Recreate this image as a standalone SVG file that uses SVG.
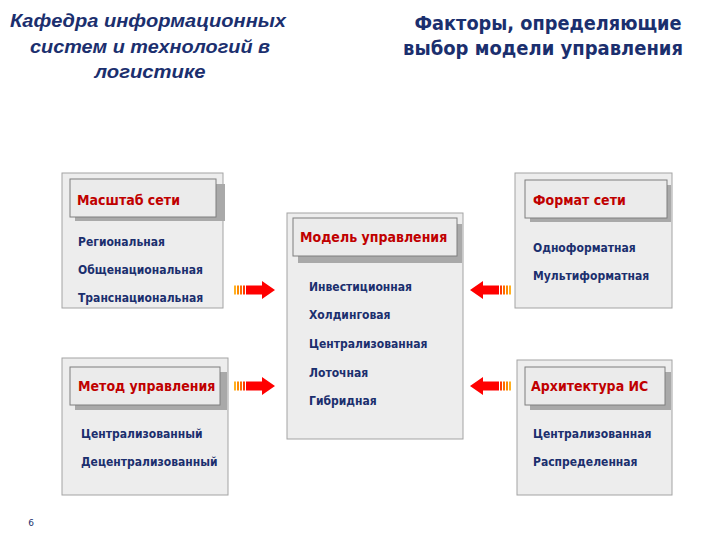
<svg xmlns="http://www.w3.org/2000/svg" width="720" height="540" viewBox="0 0 720 540">
<defs>
<style>
.panel{fill:#ededed;stroke:#a3a3a3;stroke-width:1}
.shadow{fill:#a9a9a9}
.head{fill:#ebebeb;stroke:#7f7f7f;stroke-width:1}
.ht{font-family:"DejaVu Sans Condensed","DejaVu Sans",sans-serif;font-weight:bold;font-size:14px;fill:#c00000}
.it{font-family:"DejaVu Sans Condensed","DejaVu Sans",sans-serif;font-weight:bold;font-size:12px;fill:#1b2f6e}
.title{font-family:"DejaVu Sans Condensed","DejaVu Sans",sans-serif;font-weight:bold;font-size:20px;fill:#1b2f6e;text-anchor:middle}
.sub{font-family:"Liberation Sans",sans-serif;font-weight:bold;font-style:italic;font-size:19px;fill:#1b2f6e;text-anchor:middle}
</style>
<g id="arrowR">
<rect x="0" y="-4.5" width="2" height="9" fill="#ffb020"/>
<rect x="3" y="-4.5" width="2" height="9" fill="#ff8a00"/>
<rect x="6" y="-4.5" width="2" height="9" fill="#ff6a00"/>
<rect x="9" y="-4.5" width="2" height="9" fill="#ff3a00"/>
<polygon points="12,-4.5 28,-4.5 28,-9 41,0 28,9 28,4.5 12,4.5" fill="#ff0000"/>
</g>
</defs>
<rect width="720" height="540" fill="#ffffff"/>
<g id="titles">
<text class="sub" x="148" y="27" textLength="276" lengthAdjust="spacingAndGlyphs">Кафедра информационных</text>
<text class="sub" x="150" y="53" textLength="240" lengthAdjust="spacingAndGlyphs">систем и технологий в</text>
<text class="sub" x="150" y="78" textLength="111" lengthAdjust="spacingAndGlyphs">логистике</text>
<text class="title" x="548" y="30" textLength="267" lengthAdjust="spacingAndGlyphs">Факторы, определяющие</text>
<text class="title" x="543" y="55" textLength="280" lengthAdjust="spacingAndGlyphs">выбор модели управления</text>
</g>
<g id="scale">
<rect class="panel" x="62" y="173" width="161" height="135"/>
<rect class="shadow" x="75" y="184" width="150" height="37"/>
<rect class="head" x="70" y="179" width="146" height="38"/>
<text class="ht" x="77" y="205">Масштаб сети</text>
<text class="it" x="78" y="246">Региональная</text>
<text class="it" x="78" y="274">Общенациональная</text>
<text class="it" x="78" y="302">Транснациональная</text>
</g>
<g id="format">
<rect class="panel" x="515" y="173" width="157" height="135"/>
<rect class="shadow" x="530" y="185" width="141" height="37"/>
<rect class="head" x="525" y="180" width="142" height="38"/>
<text class="ht" x="533" y="205">Формат сети</text>
<text class="it" x="533" y="252">Одноформатная</text>
<text class="it" x="533" y="280">Мультиформатная</text>
</g>
<g id="model">
<rect class="panel" x="287" y="213" width="176" height="226"/>
<rect class="shadow" x="298" y="224" width="164" height="39"/>
<rect class="head" x="293" y="218" width="164" height="38"/>
<text class="ht" x="300" y="242">Модель управления</text>
<text class="it" x="309" y="291">Инвестиционная</text>
<text class="it" x="309" y="319">Холдинговая</text>
<text class="it" x="309" y="348">Централизованная</text>
<text class="it" x="309" y="377">Лоточная</text>
<text class="it" x="309" y="405">Гибридная</text>
</g>
<g id="method">
<rect class="panel" x="62" y="358" width="166" height="137"/>
<rect class="shadow" x="75" y="372" width="152" height="38"/>
<rect class="head" x="70" y="367" width="150" height="38"/>
<text class="ht" x="78" y="391">Метод управления</text>
<text class="it" x="81" y="438">Централизованный</text>
<text class="it" x="81" y="466">Децентрализованный</text>
</g>
<g id="arch">
<rect class="panel" x="517" y="360" width="155" height="135"/>
<rect class="shadow" x="530" y="372" width="141" height="38"/>
<rect class="head" x="525" y="367" width="140" height="38"/>
<text class="ht" x="531" y="391">Архитектура ИС</text>
<text class="it" x="533" y="438">Централизованная</text>
<text class="it" x="533" y="466">Распределенная</text>
</g>
<g id="connectors">
<use href="#arrowR" transform="translate(234,290)"/>
<use href="#arrowR" transform="translate(234,386)"/>
<use href="#arrowR" transform="translate(511,290) scale(-1,1)"/>
<use href="#arrowR" transform="translate(511,386) scale(-1,1)"/>
</g>
<text x="31" y="526" font-family="'DejaVu Sans',sans-serif" font-size="9" fill="#1b2f6e" text-anchor="middle">6</text>
</svg>
